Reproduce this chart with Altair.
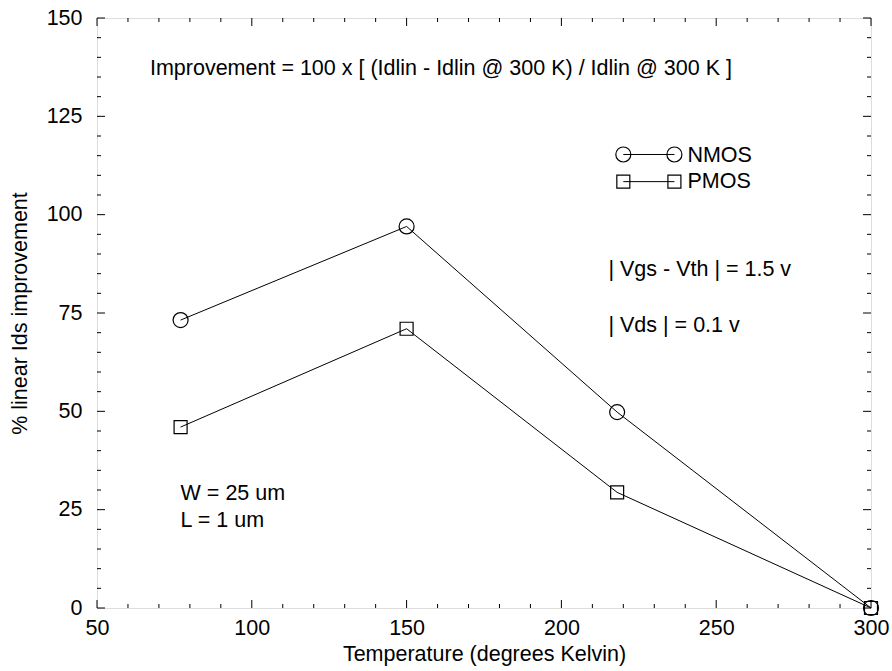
import altair as alt
import pandas as pd

# ---------------- data ----------------
temperature = [77, 150, 218, 300]
nmos = [73.2, 97.0, 49.8, 0.0]
pmos = [46.0, 71.0, 29.4, 0.0]
series_names = ["NMOS", "PMOS"]

x_major = [50, 100, 150, 200, 250, 300]
x_minor = [v for v in range(60, 300, 10) if v % 50 != 0]
y_major = [0, 25, 50, 75, 100, 125, 150]
y_minor = [v for v in range(5, 150, 5) if v % 25 != 0]

annotations = [
    "Improvement = 100 x [ (Idlin - Idlin @ 300 K) / Idlin @ 300 K ]",
    "| Vgs - Vth | = 1.5 v",
    "| Vds | = 0.1 v",
    "W = 25 um",
    "L = 1 um",
]

# ---------------- layout constants ----------------
W, H = 774, 590
FONT = "Liberation Sans"
FS = 21.5
MAJ, MIN = 8, 4

ANN_X = [67.1, 215.2, 215.2, 77.0, 77.0]
ANN_Y = [135.5, 84.4, 70.2, 27.5, 20.6]
LEG_X = (220.0, 236.5)
LEG_TEXT_X = 240.7
LEG_Y = {"NMOS": 115.3, "PMOS": 108.4}
LEG_TEXT_Y = {"NMOS": 113.5, "PMOS": 106.7}

xscale = alt.Scale(domain=[50, 300], nice=False, zero=False)
yscale = alt.Scale(domain=[0, 150], nice=False, zero=False)

xaxis = alt.Axis(values=x_major, ticks=False, domain=False, grid=False,
                 labelFont=FONT, labelFontSize=FS, labelColor="black",
                 labelPadding=9, labelFlush=False, labelOverlap=False,
                 title="Temperature (degrees Kelvin)", titleFont=FONT,
                 titleFontSize=FS, titleFontWeight="normal", titleColor="black",
                 titleX=W / 2, titleY=52, titleBaseline="alphabetic")
yaxis = alt.Axis(values=y_major, ticks=False, domain=False, grid=False,
                 labelFont=FONT, labelFontSize=FS, labelColor="black",
                 labelPadding=15, labelFlush=False, labelOverlap=False,
                 title="% linear Ids improvement", titleFont=FONT,
                 titleFontSize=FS, titleFontWeight="normal", titleColor="black",
                 titleX=-71, titleY=H / 2, titleAngle=270,
                 titleBaseline="alphabetic")


def X(f):
    return alt.X(f, scale=xscale, axis=xaxis)


def Y(f):
    return alt.Y(f, scale=yscale, axis=yaxis)


df = pd.DataFrame({
    "T": temperature * 2,
    "v": nmos + pmos,
    "s": ["NMOS"] * len(temperature) + ["PMOS"] * len(temperature),
})

base = alt.Chart(df)
lines = base.mark_line(color="black", strokeWidth=1).encode(
    x=X("T:Q"), y=Y("v:Q"), detail="s:N")
pts_n = base.transform_filter(alt.datum.s == "NMOS").mark_point(
    shape="circle", filled=False, color="black", size=225, strokeWidth=1.2, opacity=1
).encode(x=X("T:Q"), y=Y("v:Q"))
pts_p = base.transform_filter(alt.datum.s == "PMOS").mark_point(
    shape="square", filled=False, color="black", size=169, strokeWidth=1.2, opacity=1
).encode(x=X("T:Q"), y=Y("v:Q"))


# ---------------- inward ticks ----------------
def xticks(values, length, top):
    d = pd.DataFrame({"tv": values})
    y0, y1 = (0, length) if top else (H, H - length)
    return alt.Chart(d).mark_rule(color="black", strokeWidth=1).encode(
        x=X("tv:Q"), y=alt.value(y0), y2=alt.value(y1))


def yticks(values, length, right):
    d = pd.DataFrame({"tv": values})
    x0, x1 = (W, W - length) if right else (0, length)
    return alt.Chart(d).mark_rule(color="black", strokeWidth=1).encode(
        y=Y("tv:Q"), x=alt.value(x0), x2=alt.value(x1))


ticks = [
    xticks(x_major, MAJ, False), xticks(x_minor, MIN, False),
    xticks(x_major, MAJ, True), xticks(x_minor, MIN, True),
    yticks(y_major, MAJ, False), yticks(y_minor, MIN, False),
    yticks(y_major, MAJ, True), yticks(y_minor, MIN, True),
]

# ---------------- annotations ----------------
ann_df = pd.DataFrame({"t": annotations, "ax": ANN_X, "ay": ANN_Y})
ann = alt.Chart(ann_df).mark_text(
    align="left", baseline="alphabetic", font=FONT, fontSize=FS, color="black"
).encode(x=X("ax:Q"), y=Y("ay:Q"), text="t:N")

# ---------------- legend ----------------
leg_rows = []
for s in series_names:
    for lx in LEG_X:
        leg_rows.append({"s": s, "lx": lx, "ly": LEG_Y[s]})
leg_df = pd.DataFrame(leg_rows)
leg_line = alt.Chart(leg_df).mark_line(color="black", strokeWidth=1).encode(
    x=X("lx:Q"), y=Y("ly:Q"), detail="s:N")
leg_n = alt.Chart(leg_df).transform_filter(alt.datum.s == "NMOS").mark_point(
    shape="circle", filled=False, color="black", size=225, strokeWidth=1.2, opacity=1
).encode(x=X("lx:Q"), y=Y("ly:Q"))
leg_p = alt.Chart(leg_df).transform_filter(alt.datum.s == "PMOS").mark_point(
    shape="square", filled=False, color="black", size=169, strokeWidth=1.2, opacity=1
).encode(x=X("lx:Q"), y=Y("ly:Q"))
leg_txt_df = pd.DataFrame({"s": series_names,
                           "tx": [LEG_TEXT_X] * len(series_names),
                           "ty": [LEG_TEXT_Y[s] for s in series_names]})
leg_txt = alt.Chart(leg_txt_df).mark_text(
    align="left", baseline="alphabetic", font=FONT, fontSize=FS, color="black"
).encode(x=X("tx:Q"), y=Y("ty:Q"), text="s:N")

chart = alt.layer(
    lines, pts_n, pts_p, *ticks, ann, leg_line, leg_n, leg_p, leg_txt
).properties(
    width=W, height=H,
    autosize=alt.AutoSizeParams(type="none"),
    padding={"left": 97, "top": 18, "right": 21, "bottom": 63},
).configure_view(
    stroke="black", strokeWidth=1.5, fill="white"
).configure(background="white")

chart.save("out.html", embed_options={"renderer": "svg", "actions": False})
